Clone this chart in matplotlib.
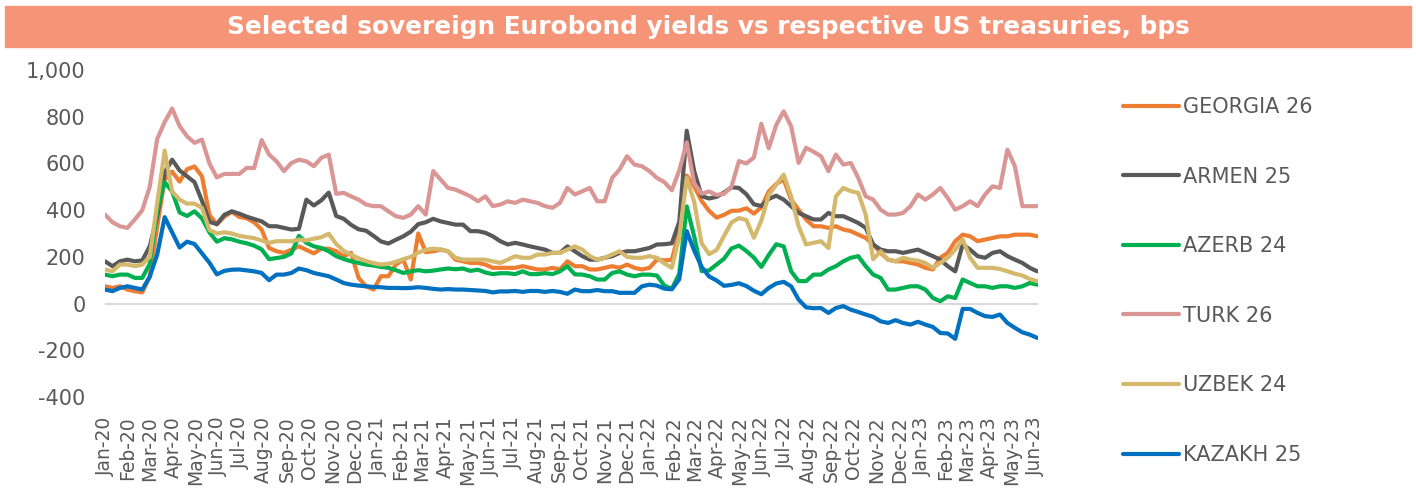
import pandas as pd
import matplotlib
matplotlib.use("Agg")
import matplotlib.pyplot as plt
import matplotlib.dates as mdates
from matplotlib.patches import Rectangle
from matplotlib.ticker import FuncFormatter

dates = pd.date_range("2020-01-01", periods=126, freq="10D")

georgia_26 = [74, 67, 74, 60, 53, 48, 115, 330, 530, 565, 522, 575, 587, 545, 380, 339,
              372, 393, 371, 365, 348, 317, 238, 224, 217, 231, 245, 230, 215, 235, 235, 224,
              203, 217, 110, 74, 60, 117, 117, 167, 188, 103, 300, 220, 224, 231, 224, 188,
              181, 174, 174, 167, 153, 153, 153, 153, 160, 153, 146, 146, 153, 146, 181, 160,
              160, 146, 146, 153, 160, 153, 167, 153, 146, 153, 188, 185, 187, 310, 548, 501,
              439, 397, 368, 380, 397, 398, 408, 385, 412, 480, 512, 531, 445, 402, 360, 331,
              331, 324, 331, 317, 310, 295, 281, 253, 217, 188, 181, 181, 174, 167, 153, 146,
              196, 217, 267, 295, 288, 267, 274, 281, 288, 288, 295, 295, 295, 288]

armen_25 = [181, 160, 181, 188, 181, 185, 245, 374, 560, 616, 570, 545, 520, 440, 350, 340,
            380, 395, 385, 372, 362, 352, 331, 331, 324, 317, 320, 445, 420, 442, 475, 375,
            363, 337, 318, 312, 290, 266, 257, 273, 288, 308, 340, 348, 363, 352, 345, 338,
            338, 310, 310, 303, 288, 267, 253, 260, 253, 245, 238, 231, 217, 217, 245, 224,
            203, 188, 188, 196, 203, 217, 224, 224, 231, 238, 253, 254, 258, 350, 740, 567,
            460, 450, 457, 475, 498, 495, 468, 425, 418, 448, 462, 445, 417, 388, 374, 360,
            360, 388, 374, 374, 360, 345, 324, 253, 231, 224, 224, 217, 224, 231, 217, 203,
            188, 160, 138, 253, 231, 203, 196, 217, 224, 203, 188, 174, 153, 138]

azerb_24 = [124, 117, 124, 124, 110, 110, 170, 400, 520, 480, 390, 375, 395, 365, 305, 265,
            280, 275, 265, 258, 248, 232, 190, 195, 200, 215, 290, 260, 245, 238, 224, 203,
            191, 181, 174, 167, 163, 157, 153, 143, 131, 138, 143, 138, 141, 146, 150, 147,
            150, 140, 145, 133, 126, 130, 130, 126, 138, 126, 126, 130, 126, 138, 160, 125,
            124, 117, 103, 103, 131, 138, 124, 117, 124, 124, 120, 77, 63, 128, 416, 288,
            139, 142, 167, 192, 236, 248, 225, 197, 157, 208, 254, 245, 138, 96, 96, 124,
            124, 146, 160, 181, 196, 203, 160, 124, 110, 60, 60, 67, 74, 74, 60, 24,
            10, 31, 24, 103, 88, 74, 74, 67, 74, 74, 67, 74, 88, 81]

turk_26 = [381, 348, 331, 324, 360, 400, 500, 705, 777, 835, 760, 716, 688, 702, 600, 540,
           555, 555, 555, 581, 580, 700, 638, 609, 567, 602, 616, 609, 588, 624, 638, 470,
           474, 459, 445, 424, 417, 417, 395, 374, 367, 381, 417, 381, 567, 531, 495, 488,
           474, 459, 438, 459, 417, 424, 438, 431, 445, 438, 431, 417, 410, 431, 495, 467,
           481, 495, 438, 438, 538, 574, 631, 595, 588, 567, 538, 520, 485, 570, 690, 515,
           470, 480, 465, 470, 500, 610, 600, 625, 770, 665, 765, 823, 759, 602, 667, 650,
           631, 567, 638, 595, 602, 538, 459, 445, 402, 381, 381, 388, 417, 467, 445, 467,
           495, 452, 402, 417, 438, 417, 467, 502, 495, 659, 588, 417, 417, 417]

uzbek_24 = [146, 138, 167, 167, 160, 167, 200, 430, 655, 480, 445, 428, 428, 410, 315, 300,
            305, 300, 290, 285, 280, 270, 260, 267, 267, 267, 274, 270, 278, 284, 299, 255,
            226, 209, 194, 182, 173, 167, 170, 179, 190, 200, 218, 230, 235, 232, 224, 196,
            188, 188, 188, 188, 181, 174, 188, 203, 196, 196, 210, 210, 217, 217, 231, 245,
            231, 203, 188, 196, 210, 224, 200, 196, 196, 203, 196, 172, 153, 285, 538, 435,
            258, 212, 229, 289, 347, 366, 358, 282, 355, 465, 509, 552, 459, 331, 253, 260,
            267, 238, 459, 495, 481, 474, 380, 190, 224, 188, 181, 196, 188, 184, 174, 153,
            174, 196, 231, 274, 196, 153, 153, 153, 148, 138, 128, 120, 105, 96]

kazakh_25 = [60, 53, 67, 74, 67, 60, 115, 210, 370, 305, 240, 265, 255, 215, 175, 125,
             140, 145, 146, 142, 138, 131, 100, 124, 124, 131, 150, 143, 131, 124, 117, 103,
             88, 81, 77, 74, 71, 70, 67, 67, 66, 67, 70, 67, 63, 60, 62, 60,
             60, 58, 56, 54, 48, 52, 52, 54, 50, 54, 54, 50, 54, 50, 42, 60,
             53, 53, 58, 53, 53, 46, 46, 46, 74, 81, 77, 64, 61, 104, 310, 227,
             157, 116, 99, 76, 80, 87, 75, 55, 40, 67, 86, 93, 74, 17, -16, -20,
             -19, -40, -19, -11, -26, -36, -47, -57, -76, -83, -71, -83, -90, -78, -90, -100,
             -126, -128, -151, -23, -23, -40, -54, -57, -47, -83, -104, -123, -133, -147]

labels = ["GEORGIA 26", "ARMEN 25", "AZERB 24", "TURK 26", "UZBEK 24", "KAZAKH 25"]
series = [georgia_26, armen_25, azerb_24, turk_26, uzbek_24, kazakh_25]
colors = ["#ED7D31", "#595959", "#00B050", "#D99694", "#D4B96C", "#0070C0"]

text_col = "#595959"

fig = plt.figure(figsize=(14.16, 4.93), dpi=100)

# title banner
fig.patches.append(Rectangle((5 / 1416, 1 - 47 / 493), 1406 / 1416, 41 / 493,
                             transform=fig.transFigure, color="#F59477", zorder=0))
fig.text(0.5, 1 - 27 / 493, "Selected sovereign Eurobond yields vs respective US treasuries, bps",
         ha="center", va="center", color="white", fontsize=17.8, fontweight="bold")

ax = fig.add_axes([105 / 1416, 1 - 397 / 493, 933 / 1416, 327 / 493])

lines = []
for name, vals, c in zip(labels, series, colors):
    ln, = ax.plot(dates, vals, color=c, lw=3.0, label=name,
                  solid_joinstyle="round", solid_capstyle="round")
    lines.append(ln)

ax.axhline(0, color="#D9D9D9", lw=1.5, zorder=0)

ax.set_ylim(-400, 1000)
ax.set_yticks(range(-400, 1001, 200))
ax.yaxis.set_major_formatter(FuncFormatter(lambda v, p: f"{v:,.0f}"))
ax.set_xlim(pd.Timestamp("2020-01-01"), pd.Timestamp("2023-06-05"))
ax.xaxis.set_major_locator(mdates.MonthLocator())
ax.xaxis.set_major_formatter(mdates.DateFormatter("%b-%y"))

for s in ax.spines.values():
    s.set_visible(False)
ax.tick_params(axis="both", length=0, colors=text_col)
ax.tick_params(axis="y", labelsize=15, pad=14)
ax.tick_params(axis="x", labelsize=13.5, pad=14)
for lab in ax.get_xticklabels():
    lab.set_rotation(90)

ax.legend(handles=lines, loc="upper left", bbox_to_anchor=(1123 / 1416, 1 - 97 / 493),
          bbox_transform=fig.transFigure, frameon=False, fontsize=15, labelcolor=text_col,
          handlelength=2.7, handletextpad=0.2, labelspacing=2.38, borderpad=0, borderaxespad=0)

fig.savefig("out.png", dpi=100)
